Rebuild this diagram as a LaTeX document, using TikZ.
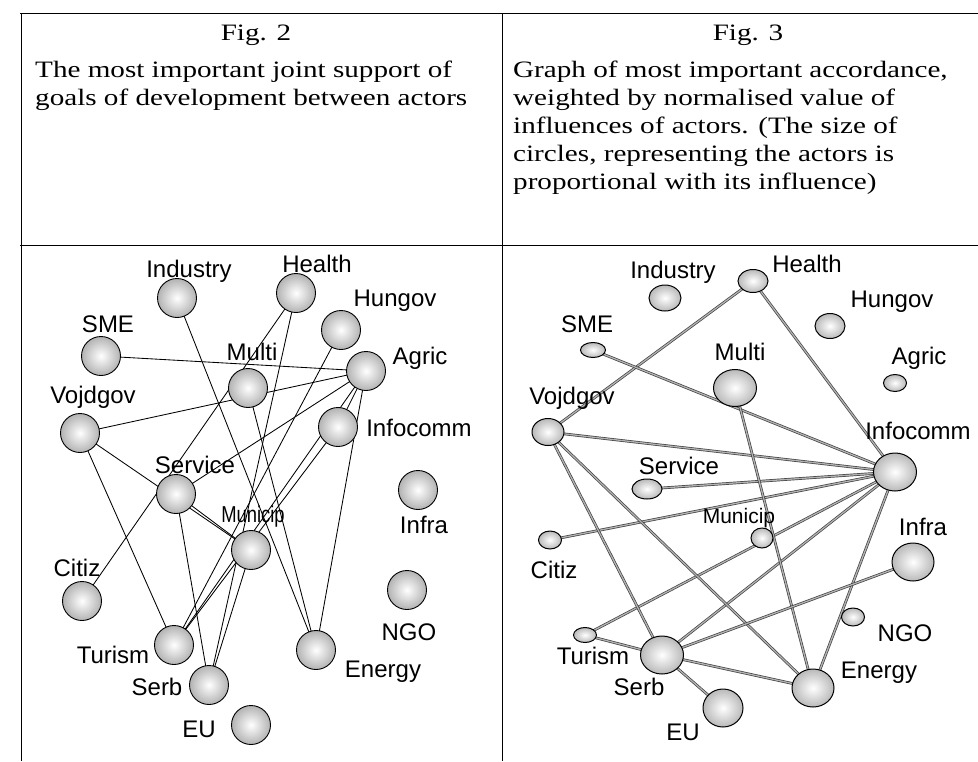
\documentclass[tikz,border=0pt]{standalone}
\usepackage{fontspec}
\setmainfont{Liberation Serif}
\setsansfont{Liberation Sans}
\newfontfamily\headfont[FakeStretch=1.24]{Liberation Serif}
\newfontfamily\narrowfont[FakeStretch=0.8]{Liberation Sans}
\usetikzlibrary{shapes.geometric}
\pgfdeclarelayer{bg}
\pgfsetlayers{bg,main}

\begin{document}
\begin{tikzpicture}[
  x=1pt,
  y=-1pt,
  actor/.style={circle, draw=black, line width=0.9pt, inner sep=0pt, minimum size=39pt,
    shading=radial, inner color=white, outer color=gray!60},
  wactor/.style={ellipse, draw=black, line width=1pt, inner sep=0pt,
    shading=radial, inner color=white, outer color=gray!55},
  lbl/.style={font=\sffamily\fontsize{24}{24}\selectfont, inner sep=0pt},
  link/.style={draw=black, line width=0.85pt},
  wlink/.style={draw=black!75, double=gray!60, double distance=1.3pt, line width=0.7pt},
  head/.style={font=\headfont\fontsize{23.5}{28}\selectfont, inner sep=0pt}
]
  \useasboundingbox (0,0) rectangle (978,761);

  % bảng
  \draw[line width=0.8pt] (20,13) -- (978,13);
  \draw[line width=0.8pt] (20,245) -- (978,245);
  \draw[line width=0.7pt] (21,13) -- (21,761);
  \draw[line width=0.7pt] (502,13) -- (502,761);

  % tiêu đề
  \node[head, anchor=base] (fig2) at (256,40) {Fig. 2};
  \node[head, anchor=base] (fig3) at (748,40) {Fig. 3};
  \node[head, anchor=north west, align=left] (cap2) at (35,61)
    {The most important joint support of\\goals of development between actors};
  \node[head, anchor=north west, align=left] (cap3) at (513,61)
    {Graph of most important accordance,\\weighted by normalised value of\\influences of actors. (The size of\\circles, representing the actors is\\proportional with its influence)};

  % hình 2: các nút
  \node[actor] (aIndustry) at (177,298) {};
  \node[actor] (aHealth) at (296,293) {};
  \node[actor] (aHungov) at (341,330) {};
  \node[actor] (aSME) at (101,356) {};
  \node[actor] (aMulti) at (248,388) {};
  \node[actor] (aAgric) at (366,371) {};
  \node[actor] (aVojdgov) at (80,433) {};
  \node[actor] (aInfocomm) at (338,427) {};
  \node[actor] (aService) at (176,494) {};
  \node[actor] (aInfra) at (418,490) {};
  \node[actor] (aMunicip) at (251,550) {};
  \node[actor] (aCitiz) at (82,601) {};
  \node[actor] (aNGO) at (407,590) {};
  \node[actor] (aTurism) at (174,645) {};
  \node[actor] (aEnergy) at (316,650) {};
  \node[actor] (aSerb) at (209,685) {};
  \node[actor] (aEU) at (251,725) {};

  % hình 2: nhãn
  \node[lbl] (aIndustryT) at (189,271) {Industry};
  \node[lbl] (aHealthT) at (317,264) {Health};
  \node[lbl] (aHungovT) at (395,301) {Hungov};
  \node[lbl] (aSMET) at (108,324) {SME};
  \node[lbl] (aMultiT) at (252,352) {Multi};
  \node[lbl] (aAgricT) at (420,358) {Agric};
  \node[lbl] (aVojdgovT) at (93,397) {Vojdgov};
  \node[lbl] (aInfocommT) at (419,428) {Infocomm};
  \node[lbl] (aServiceT) at (195,465) {Service};
  \node[lbl] (aInfraT) at (424,525) {Infra};
  \node[lbl, font=\narrowfont\fontsize{23}{23}\selectfont] (aMunicipT) at (253,517) {Municip};
  \node[lbl] (aCitizT) at (77,568) {Citiz};
  \node[lbl] (aNGOT) at (409,632) {NGO};
  \node[lbl] (aTurismT) at (113,655) {Turism};
  \node[lbl] (aEnergyT) at (383,672) {Energy};
  \node[lbl] (aSerbT) at (157,687) {Serb};
  \node[lbl] (aEUT) at (199,729) {EU};

  % hình 2: các cạnh
  \begin{pgfonlayer}{bg}
    \draw[link] (aSME.center) -- (aAgric.center);
    \draw[link] (aVojdgov.center) -- (aAgric.center);
    \draw[link] (aVojdgov.center) -- (aTurism.center);
    \draw[link] (aVojdgov.center) -- (aMunicip.center);
    \draw[link] (aIndustry.center) -- (aEnergy.center);
    \draw[link] (aMulti.center) -- (aEnergy.center);
    \draw[link] (aHealth.center) -- (aCitiz.center);
    \draw[link] (aHealth.center) -- (aSerb.center);
    \draw[link] (aHungov.center) -- (aTurism.center);
    \draw[link] (aAgric.center) -- (aService.center);
    \draw[link] (aAgric.center) -- (aTurism.center);
    \draw[link] (aAgric.center) -- (aInfocomm.center);
    \draw[link] (aAgric.center) -- (aEnergy.center);
    \draw[link] (aInfocomm.center) -- (aTurism.center);
    \draw[link] (aService.center) -- (aMunicip.center);
    \draw[link] (aService.center) -- (aSerb.center);
    \draw[link] (aMunicip.center) -- (aSerb.center);
  \end{pgfonlayer}

  % hình 3: các nút
  \node[wactor, minimum width=32pt, minimum height=26pt] (bIndustry) at (665,298) {};
  \node[wactor, minimum width=30pt, minimum height=23pt] (bHealth) at (753,281) {};
  \node[wactor, minimum width=30pt, minimum height=25pt] (bHungov) at (830,326) {};
  \node[wactor, minimum width=25pt, minimum height=15pt] (bSME) at (593,350) {};
  \node[wactor, minimum width=43pt, minimum height=37pt] (bMulti) at (735,388) {};
  \node[wactor, minimum width=23pt, minimum height=17pt] (bAgric) at (895,383) {};
  \node[wactor, minimum width=32pt, minimum height=27pt] (bVojdgov) at (548,432) {};
  \node[wactor, minimum width=43pt, minimum height=38pt] (bInfocomm) at (895,472) {};
  \node[wactor, minimum width=30pt, minimum height=20pt] (bService) at (647,489) {};
  \node[wactor, minimum width=22pt, minimum height=20pt] (bMunicip) at (762,538) {};
  \node[wactor, minimum width=23pt, minimum height=18pt] (bCitiz) at (550,540) {};
  \node[wactor, minimum width=42pt, minimum height=38pt] (bInfra) at (913,562) {};
  \node[wactor, minimum width=23pt, minimum height=18pt] (bNGO) at (853,617) {};
  \node[wactor, minimum width=23pt, minimum height=15pt] (bTurism) at (585,635) {};
  \node[wactor, minimum width=43pt, minimum height=38pt] (bSerb) at (662,655) {};
  \node[wactor, minimum width=42pt, minimum height=38pt] (bEnergy) at (813,688) {};
  \node[wactor, minimum width=40pt, minimum height=38pt] (bEU) at (723,708) {};

  % hình 3: nhãn
  \node[lbl] (bIndustryT) at (673,272) {Industry};
  \node[lbl] (bHealthT) at (807,264) {Health};
  \node[lbl] (bHungovT) at (892,302) {Hungov};
  \node[lbl] (bSMET) at (587,324) {SME};
  \node[lbl] (bMultiT) at (740,352) {Multi};
  \node[lbl] (bAgricT) at (919,358) {Agric};
  \node[lbl] (bVojdgovT) at (572,398) {Vojdgov};
  \node[lbl] (bInfocommT) at (918,431) {Infocomm};
  \node[lbl] (bServiceT) at (679,466) {Service};
  \node[lbl, font=\sffamily\fontsize{21}{21}\selectfont] (bMunicipT) at (739,518) {Municip};
  \node[lbl] (bCitizT) at (554,570) {Citiz};
  \node[lbl] (bInfraT) at (923,527) {Infra};
  \node[lbl] (bNGOT) at (905,633) {NGO};
  \node[lbl] (bTurismT) at (593,656) {Turism};
  \node[lbl] (bSerbT) at (639,687) {Serb};
  \node[lbl] (bEnergyT) at (879,673) {Energy};
  \node[lbl] (bEUT) at (683,732) {EU};

  % hình 3: các cạnh
  \begin{pgfonlayer}{bg}
    \draw[wlink] (bHealth.center) -- (bVojdgov.center);
    \draw[wlink] (bHealth.center) -- (bInfocomm.center);
    \draw[wlink] (bSME.center) -- (bInfocomm.center);
    \draw[wlink] (bVojdgov.center) -- (bInfocomm.center);
    \draw[wlink] (bService.center) -- (bInfocomm.center);
    \draw[wlink] (bCitiz.center) -- (bInfocomm.center);
    \draw[wlink] (bTurism.center) -- (bInfocomm.center);
    \draw[wlink] (bSerb.center) -- (bInfocomm.center);
    \draw[wlink] (bEnergy.center) -- (bInfocomm.center);
    \draw[wlink] (bMulti.center) -- (bEnergy.center);
    \draw[wlink] (bVojdgov.center) -- (bSerb.center);
    \draw[wlink] (bVojdgov.center) -- (bEnergy.center);
    \draw[wlink] (bSerb.center) -- (bInfra.center);
    \draw[wlink] (bSerb.center) -- (bEnergy.center);
    \draw[wlink] (bSerb.center) -- (bEU.center);
    \draw[wlink] (bSerb.center) -- (bTurism.center);
  \end{pgfonlayer}
\end{tikzpicture}
\end{document}
